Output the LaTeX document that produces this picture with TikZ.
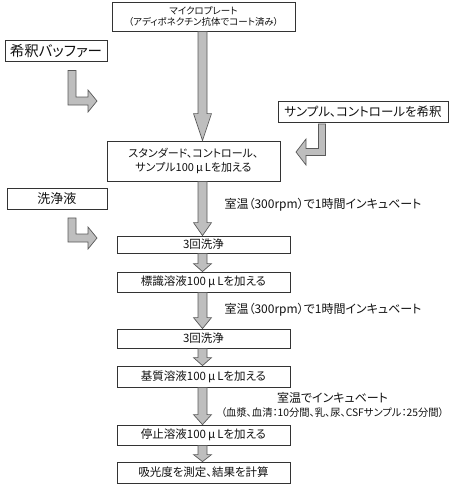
\documentclass[tikz,border=0pt]{standalone}
\usepackage{fontspec}
\setmainfont[RawFeature=+palt]{Noto Sans CJK JP}
\usepackage{tikz}
\usetikzlibrary{calc}
\definecolor{boxline}{HTML}{333333}
\definecolor{arrowfill}{HTML}{BEBEBE}
\definecolor{arrowline}{HTML}{5A5A5A}
\definecolor{textdark}{HTML}{111111}
\tikzset{
  stepbox/.style={
    rectangle, draw=boxline, line width=0.8pt, fill=white,
    minimum width=173pt, inner sep=0pt, align=center,
    font=\fontsize{11.5}{13}\selectfont, text=textdark
  },
  sidebox/.style={
    rectangle, draw=boxline, line width=0.8pt, fill=white,
    minimum height=21pt, inner sep=0pt, align=center, text=textdark
  },
  fatarrow/.style={fill=arrowfill, draw=arrowline, line width=0.7pt, line join=miter},
  note/.style={font=\fontsize{12}{14}\selectfont, text=textdark, align=center, inner sep=0pt}
}
% spaced micro sign
\newcommand{\mul}{\hspace{2pt}μ\hspace{2pt}}
% fat vertical arrow: from node, to node, head length
\newcommand{\downflow}[3]{
  \draw[fatarrow] ($(#1.south -| ax)+(-4.5,0)$) -- ($(#2.north -| ax)+(-4.5,-#3)$)
    -- ($(#2.north -| ax)+(-9,-#3)$) -- (#2.north -| ax) -- ($(#2.north -| ax)+(9,-#3)$)
    -- ($(#2.north -| ax)+(4.5,-#3)$) -- ($(#1.south -| ax)+(4.5,0)$) -- cycle;
}
% bent arrow down then right: node, stem offset, tip coordinate
\newcommand{\bendright}[3]{
  \coordinate (s#1) at ($(#1.south)+(#2,8.5)$);
  \draw[fatarrow] ($(s#1)+(-4,0)$) -- ($(s#1 |- #3)+(-4,4)$) -- ($(#3)+(-9,4)$)
    -- ($(#3)+(-9,11)$) -- (#3) -- ($(#3)+(-9,-11)$) -- ($(#3)+(-9,-4)$)
    -- ($(s#1 |- #3)+(4,-4)$) -- ($(s#1)+(4,0)$) -- cycle;
}
% bent arrow down then left: node, stem offset, tip coordinate
\newcommand{\bendleft}[3]{
  \coordinate (s#1) at ($(#1.south)+(#2,1)$);
  \draw[fatarrow] ($(s#1)+(3.5,0)$) -- ($(s#1 |- #3)+(3.5,3.5)$) -- ($(#3)+(10,3.5)$)
    -- ($(#3)+(10,13)$) -- (#3) -- ($(#3)+(10,-13)$) -- ($(#3)+(10,-3.5)$)
    -- ($(s#1 |- #3)+(-3.5,-3.5)$) -- ($(s#1)+(-3.5,0)$) -- cycle;
}

\begin{document}
\begin{tikzpicture}[x=1pt, y=-1pt]
\useasboundingbox (0,0) rectangle (450,488);
\coordinate (ax) at (202.5,0);
% main column
\node[stepbox, minimum width=183pt, minimum height=29pt, font=\fontsize{9.5}{11}\selectfont] (plate) at (203.5,16.5)
  {マイクロプレート\\（アディポネクチン抗体でコート済み）};
\node[stepbox, minimum height=40pt, font=\fontsize{11}{13.5}\selectfont] (addstd) at (193.5,161)
  {スタンダード、コントロール、\\サンプル100\mul Lを加える};
\node[stepbox, minimum height=17pt] (wash1) at (203.5,244.5) {3回洗浄};
\node[stepbox, minimum height=20pt] (label) at (203.5,282) {標識溶液100\mul Lを加える};
\node[stepbox, minimum height=19pt] (wash2) at (203.5,338.5) {3回洗浄};
\node[stepbox, minimum height=21pt] (subst) at (203.5,376.5) {基質溶液100\mul Lを加える};
\node[stepbox, minimum height=20pt] (stop) at (203.5,435) {停止溶液100\mul Lを加える};
\node[stepbox, minimum height=21pt] (read) at (203.5,472.5) {吸光度を測定、結果を計算};
% side inputs
\node[sidebox, minimum width=102pt, font=\fontsize{14.5}{16}\selectfont] (buffer) at (56,51) {希釈バッファー};
\node[sidebox, minimum width=170pt, font=\fontsize{12.5}{14}\selectfont] (dilute) at (363,112) {サンプル、コントロールを希釈};
\node[sidebox, minimum width=100pt, font=\fontsize{13}{15}\selectfont] (washliq) at (57,198.5) {洗浄液};
% incubation notes
\node[note] (inc1) at (323,205) {室温（300rpm）で1時間インキュベート};
\node[note] (inc2) at (323,310) {室温（300rpm）で1時間インキュベート};
\node[note] (inc3) at (332.5,405)
  {室温でインキュベート\\{\fontsize{10.3}{12}\selectfont（血漿、血清：10分間、乳、尿、CSFサンプル：25分間）}};
% flow
\downflow{plate}{addstd}{27}
\downflow{addstd}{wash1}{13}
\downflow{wash1}{label}{8}
\downflow{label}{wash2}{11}
\downflow{wash2}{subst}{8}
\downflow{subst}{stop}{10}
\downflow{stop}{read}{7}
\coordinate (buftip) at (97,101);
\coordinate (diltip) at (296,152);
\coordinate (washtip) at (97,238);
\bendright{buffer}{16}{buftip}
\bendleft{dilute}{-41}{diltip}
\bendright{washliq}{15}{washtip}
\end{tikzpicture}
\end{document}
